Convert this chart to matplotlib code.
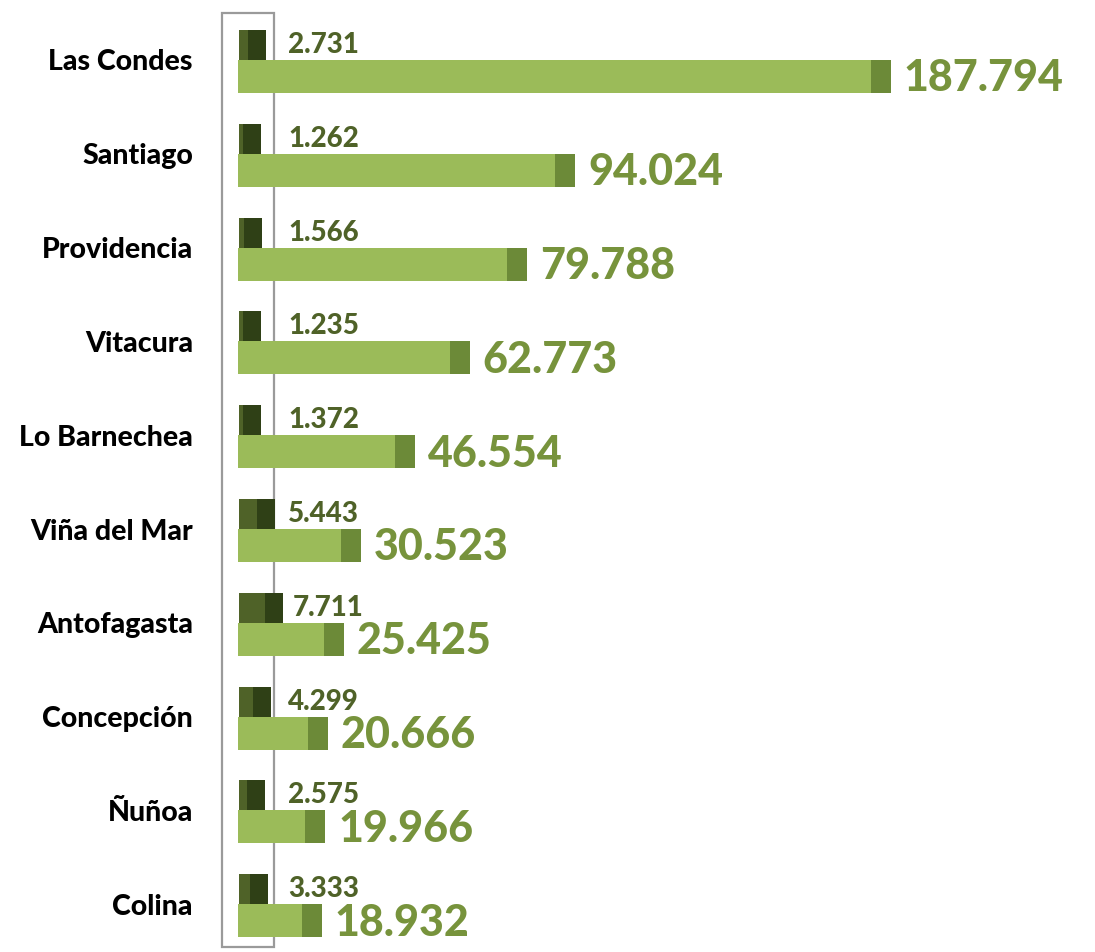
import matplotlib
matplotlib.use("Agg")
import matplotlib.pyplot as plt
from matplotlib.patches import Rectangle

categories = ["Las Condes", "Santiago", "Providencia", "Vitacura", "Lo Barnechea",
              "Viña del Mar", "Antofagasta", "Concepción", "Ñuñoa", "Colina"]
small_values = [2.731, 1.262, 1.566, 1.235, 1.372, 5.443, 7.711, 4.299, 2.575, 3.333]
big_values = [187.794, 94.024, 79.788, 62.773, 46.554, 30.523, 25.425, 20.666, 19.966, 18.932]


def label_text(v):
    return f"{v:.3f}"


W, H = 1095, 952
fig = plt.figure(figsize=(W / 100, H / 100), dpi=100)
plt.rcParams['font.family'] = ['Lato', 'DejaVu Sans']

x0_px = 236
px_per_unit = 3.37
row_px = 93.8
first_row_px = 60

ax = fig.add_axes([x0_px / W, 0, 1 - x0_px / W, 1])
xmax = (W - x0_px) / px_per_unit
ax.set_xlim(0, xmax)
ymin = -first_row_px / row_px
ymax = (H - first_row_px) / row_px
ax.set_ylim(ymax, ymin)

# 3D wall frame (decoration)
frame = Rectangle((222 / W, 1 - 947 / H), (274 - 222) / W, (947 - 13) / H,
                  transform=fig.transFigure, fill=False, edgecolor="#9a9a9a",
                  linewidth=1.6, zorder=0)
fig.add_artist(frame)

depth = 20 / px_per_unit   # side face depth in data units
small_h = 30 / row_px
big_h = 33 / row_px
ypos = list(range(len(categories)))

big_front = "#9bbb59"
big_side = "#6c8a38"
small_front = "#4f6228"
small_side = "#2f4016"

# small series (behind)
ax.barh([y - small_h / 2 for y in ypos], small_values, height=small_h,
        color=small_front, left=0.8, zorder=2)
ax.barh([y - small_h / 2 for y in ypos], [depth * 0.9] * len(ypos), height=small_h,
        left=[v + 0.8 for v in small_values], color=small_side, zorder=2)
# big series
ax.barh([y + big_h / 2 for y in ypos], big_values, height=big_h,
        color=big_front, left=0.6, zorder=3)
ax.barh([y + big_h / 2 for y in ypos], [depth] * len(ypos), height=big_h,
        left=[v + 0.6 for v in big_values], color=big_side, zorder=3)

min_label_x = (288 - x0_px) / px_per_unit
for y, s, b in zip(ypos, small_values, big_values):
    xs = max(s + 0.8 + depth * 0.9 + 10 / px_per_unit, min_label_x)
    ax.text(xs, y - small_h / 2, label_text(s), ha="left", va="center",
            fontsize=20, fontweight="black", color="#4f6228", zorder=4)
    ax.text(b + 0.6 + depth + 13 / px_per_unit, y + big_h / 2 + 0.02,
            label_text(b), ha="left", va="center", fontsize=31, fontweight="black",
            color="#77933c", zorder=4)

ax.set_yticks(ypos)
ax.set_yticklabels(categories, fontsize=20.5, fontweight="black", color="black")
ax.tick_params(axis="y", length=0, pad=31)
ax.set_xticks([])
for sp in ax.spines.values():
    sp.set_visible(False)
ax.patch.set_alpha(0)

fig.savefig("out.png", dpi=100)
